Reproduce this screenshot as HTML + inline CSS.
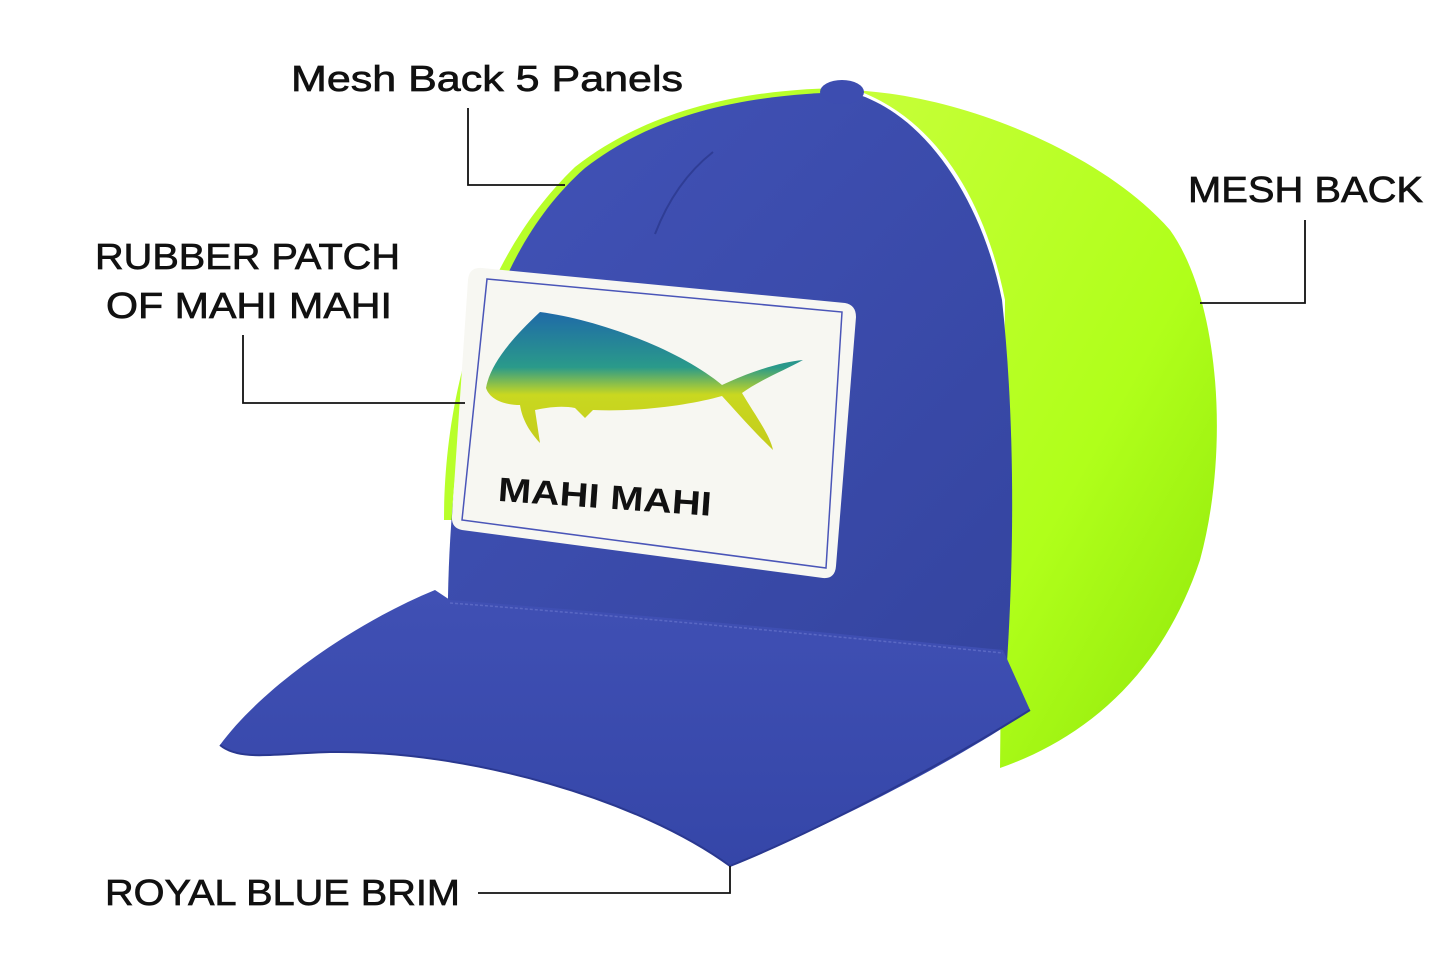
<!DOCTYPE html>
<html><head><meta charset="utf-8"><style>
html,body{margin:0;padding:0;background:#fff;}
svg{display:block;}
.lbl{font-family:"Liberation Sans",sans-serif;font-size:36px;fill:#111;stroke:#111;stroke-width:0.7;}
</style></head><body>
<svg width="1445" height="963" viewBox="0 0 1445 963" xmlns="http://www.w3.org/2000/svg">
<defs>
<linearGradient id="gr" x1="0" y1="0" x2="1" y2="1">
<stop offset="0" stop-color="#c8ff3a"/><stop offset="0.6" stop-color="#b0ff1a"/><stop offset="1" stop-color="#8ee60a"/>
</linearGradient>
<linearGradient id="bl" x1="0" y1="0" x2="1" y2="1">
<stop offset="0" stop-color="#4253b8"/><stop offset="1" stop-color="#34449f"/>
</linearGradient>
<linearGradient id="br" x1="0" y1="0" x2="0" y2="1">
<stop offset="0" stop-color="#4050b4"/><stop offset="1" stop-color="#3546a8"/>
</linearGradient>
<linearGradient id="fish" x1="0" y1="0" x2="0" y2="1">
<stop offset="0" stop-color="#1f6aa8"/><stop offset="0.4" stop-color="#2a9a8a"/><stop offset="0.6" stop-color="#c9d820"/><stop offset="1" stop-color="#c4cc1c"/>
</linearGradient>
</defs>
<!-- mesh -->
<path d="M840 90 C950 90 1100 150 1170 230 C1220 300 1230 450 1200 560 C1160 680 1080 740 1000 768 L1005 300 C985 200 935 115 850 88 Z" fill="url(#gr)"/>
<path d="M444 520 C444 420 468 270 575 167 C655 104 760 88 850 88 L850 96 C760 96 660 112 585 170 C490 270 455 420 452 520 Z" fill="#b8ff2a"/>
<!-- crown -->
<path d="M448 665 C444 450 475 265 585 168 C662 108 760 94 850 92 C925 112 982 200 1002 300 C1015 420 1015 560 1005 690 Z" fill="url(#bl)"/>
<ellipse cx="842" cy="92" rx="22" ry="12" fill="#3d4db0"/>
<path d="M655 234 C670 195 690 170 713 152" stroke="#2f3d95" stroke-width="2" fill="none"/>
<!-- brim -->
<path d="M220 745 C260 690 350 625 435 590 L450 600 C650 615 850 635 1003 650 L1030 710 C950 765 820 830 730 866 C640 800 470 750 330 752 C280 753 240 762 220 745 Z" fill="url(#br)"/>
<path d="M450 603 C650 618 850 638 1003 653" stroke="#5a68c4" stroke-width="1.5" fill="none" stroke-dasharray="3 2"/>
<path d="M220 745 C240 762 280 753 330 752 C470 750 640 800 730 866 C820 830 950 760 1030 710" stroke="#2a3890" stroke-width="2" fill="none"/>
<!-- patch -->
<path d="M482 268 L845 303 Q856 305 856 317 L836 566 Q835 579 823 578 L462 530 Q451 528 452 516 L468 280 Q469 267 482 268 Z" fill="#f7f7f2"/>
<path d="M487 279 L842 312 L826 568 L462 520 Z" fill="none" stroke="#4a55b8" stroke-width="1.5"/>
<!-- fish -->
<path d="M486 388 C490 365 510 340 540 312 C600 320 680 350 722 385 C750 372 780 362 803 360 C785 370 760 380 742 393 C755 415 770 435 773 450 C752 430 735 410 722 396 C690 405 640 412 593 410 L585 418 L575 408 C560 405 545 408 535 410 L540 443 C528 430 522 418 520 405 C505 405 490 400 486 388 Z" fill="url(#fish)"/>
<text x="498" y="508" font-family="Liberation Sans,sans-serif" font-weight="bold" font-size="34" fill="#111" textLength="214" lengthAdjust="spacingAndGlyphs" transform="rotate(4 600 495)">MAHI MAHI</text>
<!-- labels -->
<text class="lbl" x="291" y="91" textLength="392" lengthAdjust="spacingAndGlyphs">Mesh Back 5 Panels</text>
<path d="M468 108 V185 H565" stroke="#111" stroke-width="1.8" fill="none"/>
<text class="lbl" x="1188" y="202" textLength="235" lengthAdjust="spacingAndGlyphs">MESH BACK</text>
<path d="M1305 220 V303 H1200" stroke="#111" stroke-width="1.8" fill="none"/>
<text class="lbl" x="95" y="269" textLength="305" lengthAdjust="spacingAndGlyphs">RUBBER PATCH</text>
<text class="lbl" x="106" y="318" textLength="286" lengthAdjust="spacingAndGlyphs">OF MAHI MAHI</text>
<path d="M243 335 V403 H465" stroke="#111" stroke-width="1.8" fill="none"/>
<text class="lbl" x="105" y="905" textLength="355" lengthAdjust="spacingAndGlyphs">ROYAL BLUE BRIM</text>
<path d="M478 893 H730 V866" stroke="#111" stroke-width="1.8" fill="none"/>
</svg>
</body></html>
